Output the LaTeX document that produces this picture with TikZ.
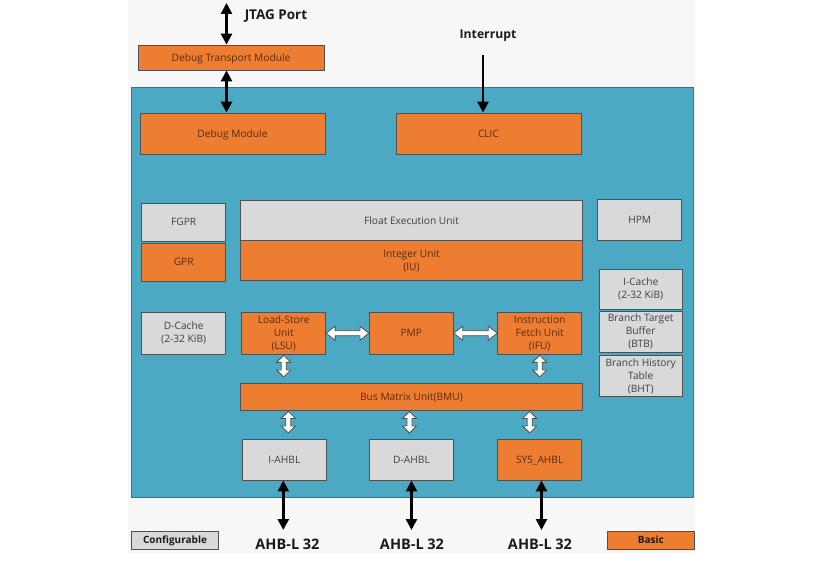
\documentclass[tikz,border=0pt]{standalone}
\usepackage{fontspec}
\setmainfont{Open Sans}
\usetikzlibrary{arrows.meta,calc}
\definecolor{tealbg}{HTML}{4BA9C4}
\definecolor{org}{HTML}{ED7D31}
\definecolor{gry}{HTML}{D9D9D9}
\definecolor{bord}{HTML}{505050}
\definecolor{otext}{HTML}{5C2A0C}
\definecolor{gtext}{HTML}{404040}
\definecolor{panel}{HTML}{F7F7F7}
\definecolor{lbl}{HTML}{1A1A1A}
\newcommand\hollowH[2]{\draw[hollow] let \p1=#1, \p2=#2 in
  (\x1,\y1) -- (\x1+9pt,\y1+7pt) -- (\x1+9pt,\y1+2.5pt) -- (\x2-9pt,\y2+2.5pt) -- (\x2-9pt,\y2+7pt)
  -- (\x2,\y2) -- (\x2-9pt,\y2-7pt) -- (\x2-9pt,\y2-2.5pt) -- (\x1+9pt,\y1-2.5pt) -- (\x1+9pt,\y1-7pt) -- cycle;}
\newcommand\hollowV[2]{\draw[hollow] let \p1=#1, \p2=#2 in
  (\x1,\y1) -- (\x1+7pt,\y1-7pt) -- (\x1+2.5pt,\y1-7pt) -- (\x2+2.5pt,\y2+7pt) -- (\x2+7pt,\y2+7pt)
  -- (\x2,\y2) -- (\x2-7pt,\y2+7pt) -- (\x2-2.5pt,\y2+7pt) -- (\x1-2.5pt,\y1-7pt) -- (\x1-7pt,\y1-7pt) -- cycle;}
\begin{document}
\begin{tikzpicture}[x=1pt,y=-1pt,
  box/.style={rectangle, draw=bord, line width=0.8pt, inner sep=1pt, align=center,
    text height=8.5pt, text depth=1.2pt, font=\fontsize{10.2}{13}\selectfont},
  multi/.style={text height=, text depth=},
  obox/.style={box, fill=org, text=otext},
  gbox/.style={box, fill=gry, text=gtext},
  lab/.style={font=\bfseries\fontsize{13.5}{15}\selectfont, text=lbl, inner sep=0pt},
  blk/.style={line width=2.6pt, draw=black, {Triangle[length=11pt,width=11pt]}-{Triangle[length=11pt,width=11pt]}},
  sarr/.style={line width=2.6pt, draw=black, -{Triangle[length=11pt,width=11pt]}},
  hollow/.style={fill=white, draw=bord, line width=0.8pt, line join=miter}]
\useasboundingbox (0,0) rectangle (814,564);
\fill[white] (0,0) rectangle (814,564);
\fill[panel] (128,0) rectangle (695,553);
\filldraw[fill=tealbg, draw=tealbg!70!black, line width=0.6pt] (131.5,87.5) rectangle (693.5,497.5);

% top
\node[obox, minimum width=186, minimum height=25] (dtm) at (231,57.5) {Debug Transport Module};
\node[obox, minimum width=185, minimum height=41] (dbg) at (232.5,133.5) {Debug Module};
\node[obox, minimum width=185, minimum height=41] (clic) at (488.5,133.5) {CLIC};
\node[lab] (jtagl) at (276,16) {JTAG Port};
\node[lab, font=\bfseries\fontsize{12.2}{14}\selectfont] (intl) at (488,36) {Interrupt};
\coordinate (jtag) at (226.5,3);
\coordinate (intc) at (483,55);
\draw[blk] (jtag) -- (jtag |- dtm.north);
\draw[blk] (dtm.south -| jtag) -- (dbg.north -| jtag);
\draw[sarr] (intc) -- (intc |- clic.north);

% middle
\node[gbox, minimum width=84, minimum height=38] (fgpr) at (183.7,222) {FGPR};
\node[obox, minimum width=84, minimum height=38] (gpr) at (183.7,262) {GPR};
\node[gbox, minimum width=341.6, minimum height=40] (feu) at (411.5,220.7) {Float Execution Unit};
\node[obox, multi, minimum width=341.6, minimum height=40] (iu) at (411.5,260.7) {Integer Unit\\(IU)};
\node[gbox, minimum width=84, minimum height=41] (hpm) at (639.7,220) {HPM};
\node[gbox, multi, minimum width=83.3, minimum height=40] (icache) at (640.7,289) {I-Cache\\(2-32 KiB)};
\node[gbox, multi, minimum width=83.3, minimum height=41.7] (btb) at (640.7,331.8) {Branch Target\\Buffer\\(BTB)};
\node[gbox, multi, minimum width=83.3, minimum height=41] (bht) at (640.7,376) {Branch History\\Table\\(BHT)};
\node[gbox, multi, minimum width=84, minimum height=41.5] (dcache) at (183.7,333.2) {D-Cache\\(2-32 KiB)};
\node[obox, multi, minimum width=84, minimum height=41.5] (lsu) at (283.7,333.2) {Load-Store\\Unit\\(LSU)};
\node[obox, minimum width=84, minimum height=41.5] (pmp) at (411.3,333.2) {PMP};
\node[obox, multi, minimum width=84, minimum height=41.5] (ifu) at (539.7,333.2) {Instruction\\Fetch Unit\\(IFU)};
\node[obox, minimum width=341.6, minimum height=26.7] (bmu) at (411.5,396.7) {Bus Matrix Unit(BMU)};

\hollowH{(lsu.east)}{(pmp.west)}
\hollowH{(pmp.east)}{(ifu.west)}
\hollowV{($(lsu.south)+(0,1)$)}{($(lsu.south |- bmu.north)+(0,-6)$)}
\hollowV{($(ifu.south)+(0,1)$)}{($(ifu.south |- bmu.north)+(0,-6)$)}

% bottom
\node[gbox, minimum width=83.3, minimum height=40.7] (iahbl) at (284.3,459.7) {I-AHBL};
\node[gbox, minimum width=83.3, minimum height=40.7] (dahbl) at (411.5,459.7) {D-AHBL};
\node[obox, minimum width=84, minimum height=40.7] (sys) at (539.7,459.7) {SYS\_AHBL};
\hollowV{($(bmu.south -| iahbl.north)+(4,1)$)}{($(iahbl.north)+(4,-6)$)}
\hollowV{($(bmu.south -| dahbl.north)+(-2,1)$)}{($(dahbl.north)+(-2,-6)$)}
\hollowV{($(bmu.south -| sys.north)+(-10,1)$)}{($(sys.north)+(-10,-6)$)}

\coordinate (b1) at (283.3,530);
\coordinate (b2) at (411.5,530);
\coordinate (b3) at (541.5,530);
\draw[blk] (iahbl.south -| b1) -- (b1);
\draw[blk] (dahbl.south -| b2) -- (b2);
\draw[blk] (sys.south -| b3) -- (b3);
\node[lab, font=\bfseries\fontsize{14.5}{16}\selectfont] (l1) at (287.5,544) {AHB-L 32};
\node[lab, font=\bfseries\fontsize{14.5}{16}\selectfont] (l2) at (412,544) {AHB-L 32};
\node[lab, font=\bfseries\fontsize{14.5}{16}\selectfont] (l3) at (540,544) {AHB-L 32};

% legend
\node[gbox, minimum width=86.6, minimum height=18.3, text=lbl, font=\bfseries\fontsize{10}{11}\selectfont] (cfg) at (175,540.2) {Configurable};
\node[obox, minimum width=86.3, minimum height=18.3, text=lbl, font=\bfseries\fontsize{10}{11}\selectfont] (basic) at (650.8,540.2) {Basic};
\end{tikzpicture}
\end{document}
